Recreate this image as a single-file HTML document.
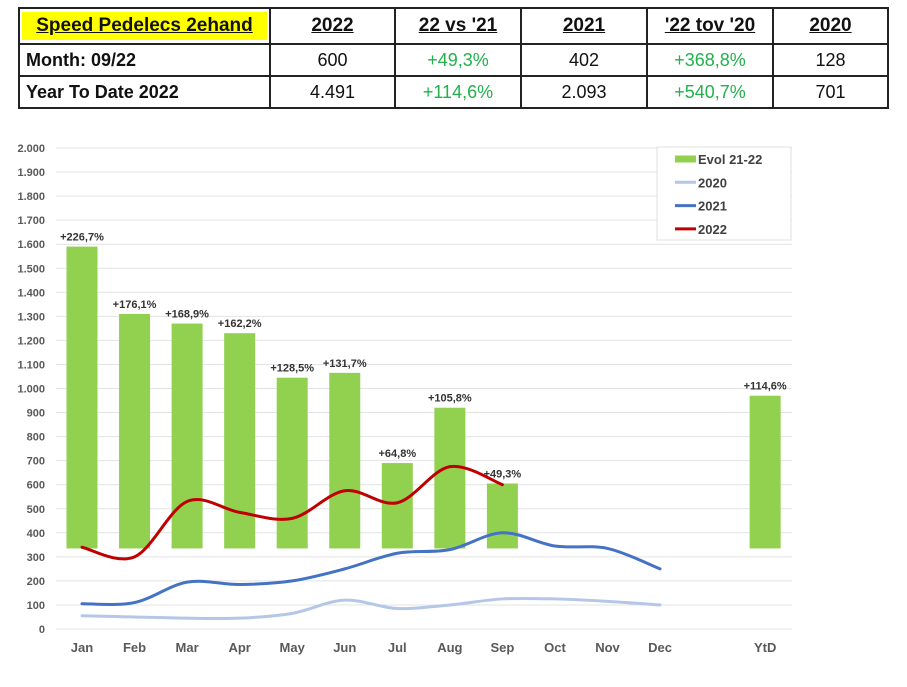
<!DOCTYPE html>
<html><head><meta charset="utf-8"><style>
body{margin:0;background:#fff;width:907px;height:687px;overflow:hidden;font-family:"Liberation Sans",sans-serif}
table{position:absolute;left:18px;top:7px;border-collapse:collapse;width:871px}
td{border:2px solid #222;height:30px;text-align:center;font-size:18px;color:#111;padding:0}
.h td{font-weight:bold;text-decoration:underline;font-size:19px}
.l{text-align:left;padding-left:6px;font-weight:bold}
.g{color:#22b14c}
</style></head><body>
<table>
<tr class="h"><td class="l" style="width:245px;padding:2px"><span style="display:block;background:#ffff00;padding:3px 4px;text-align:center">Speed Pedelecs 2ehand</span></td><td style="width:123px">2022</td><td style="width:124px">22 vs '21</td><td style="width:124px">2021</td><td style="width:124px">'22 tov '20</td><td>2020</td></tr>
<tr><td class="l">Month: 09/22</td><td>600</td><td class="g">+49,3%</td><td>402</td><td class="g">+368,8%</td><td>128</td></tr>
<tr><td class="l">Year To Date 2022</td><td>4.491</td><td class="g">+114,6%</td><td>2.093</td><td class="g">+540,7%</td><td>701</td></tr>
</table>
<svg id="chart" width="907" height="687" style="position:absolute;left:0;top:0"></svg>
<script>
const categories=["Jan","Feb","Mar","Apr","May","Jun","Jul","Aug","Sep","Oct","Nov","Dec","","YtD"];
const barTops=[1590,1310,1270,1230,1045,1065,690,920,605,null,null,null,null,970];
const barLabels=["+226,7%","+176,1%","+168,9%","+162,2%","+128,5%","+131,7%","+64,8%","+105,8%","+49,3%",null,null,null,null,"+114,6%"];
const barBase=335;
const s2020=[55,50,45,45,65,120,85,100,125,125,115,100];
const s2021=[105,110,195,185,200,250,315,330,400,345,335,250];
const s2022=[340,300,530,485,460,575,525,675,600];
const yTicks=[0,100,200,300,400,500,600,700,800,900,1000,1100,1200,1300,1400,1500,1600,1700,1800,1900,2000];
const NS="http://www.w3.org/2000/svg",svg=document.getElementById('chart');
const y=v=>629-v*0.2405, x=i=>82+i*52.55;
function mk(t,a,p){const e=document.createElementNS(NS,t);for(const k in a)e.setAttribute(k,a[k]);(p||svg).appendChild(e);return e;}
yTicks.forEach(v=>{
 const g=mk('line',{x1:56,x2:792,y1:y(v),y2:y(v),stroke:'#e3e3e3','stroke-width':1});
 
 
 const t=mk('text',{x:45,y:y(v)+4,'text-anchor':'end','font-size':11,'font-weight':'bold',fill:'#595959'});
 t.textContent=v.toLocaleString('de-DE');
 
 
});
categories.forEach((c,i)=>{
 const t=mk('text',{x:x(i),y:652,'text-anchor':'middle','font-size':13,'font-weight':'bold',fill:'#595959'});
 t.textContent=c;
 
 
 if(barTops[i]!=null){
  const r=mk('rect',{x:x(i)-15.5,y:y(barTops[i]),width:31,height:y(barBase)-y(barTops[i]),fill:'#92d050'});
  
  
  const l=mk('text',{x:x(i),y:y(barTops[i])-6,'text-anchor':'middle','font-size':11,'font-weight':'bold',fill:'#333'});
  l.textContent=barLabels[i];
  
  
 }
});
function smooth(arr){
 const p=arr.map((v,i)=>[x(i),y(v)]);let d='M'+p[0][0]+','+p[0][1];
 for(let i=0;i<p.length-1;i++){const p0=p[i-1]||p[i],p1=p[i],p2=p[i+1],p3=p[i+2]||p2;
  d+=` C${p1[0]+(p2[0]-p0[0])/6},${p1[1]+(p2[1]-p0[1])/6} ${p2[0]-(p3[0]-p1[0])/6},${p2[1]-(p3[1]-p1[1])/6} ${p2[0]},${p2[1]}`;}
 return d;}
[[s2020,'#b4c7e7','line-2020'],[s2021,'#4472c4','line-2021'],[s2022,'#c00000','line-2022']].forEach(([a,c,n])=>{
 const p=mk('path',{d:smooth(a),fill:'none',stroke:c,'stroke-width':3,'stroke-linecap':'round'});
 
 
});
const lg=mk('g',{});


mk('rect',{x:657,y:147,width:134,height:93,fill:'#fff',stroke:'#e0e0e0'},lg);
[['Evol 21-22','#92d050',true],['2020','#b4c7e7'],['2021','#4472c4'],['2022','#c00000']].forEach(([n,c,b],i)=>{
 const yy=159+i*23.3;
 if(b) mk('rect',{x:675,y:yy-3.5,width:21,height:7,fill:c},lg);
 else mk('line',{x1:675,x2:696,y1:yy,y2:yy,stroke:c,'stroke-width':3},lg);
 const t=mk('text',{x:698,y:yy+5,'font-size':13,'font-weight':'bold',fill:'#404040'},lg);
 t.textContent=n;
 
 
});
</script>
</body></html>
